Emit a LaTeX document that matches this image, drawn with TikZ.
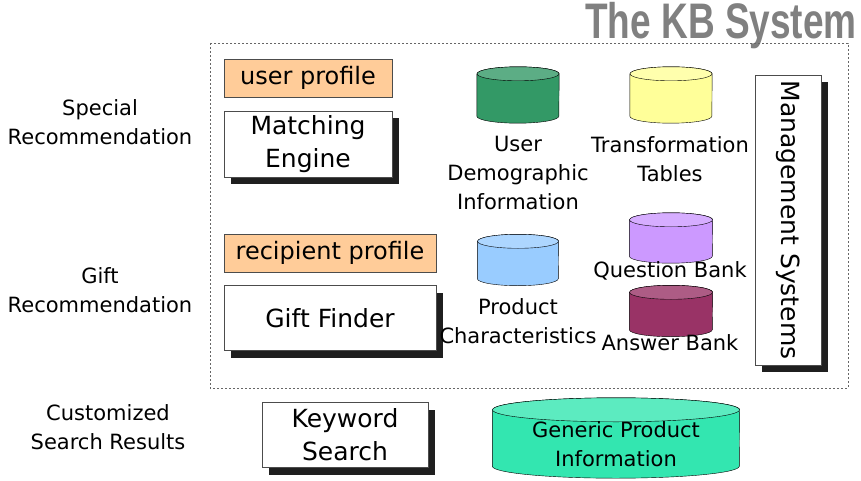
\documentclass[tikz,border=0pt]{standalone}
\usepackage{fontspec}
\setmainfont{DejaVu Sans}
\newfontfamily\titlefont{Liberation Sans}
\usepackage{tikz}
\usetikzlibrary{shapes, positioning, shadows}
\definecolor{KBPeach}{RGB}{255,204,153}
\definecolor{KBGreen}{RGB}{51,153,102}
\definecolor{KBYellow}{RGB}{255,255,153}
\definecolor{KBBlue}{RGB}{153,204,255}
\definecolor{KBLila}{RGB}{204,153,255}
\definecolor{KBMaroon}{RGB}{153,51,102}
\definecolor{KBAqua}{RGB}{51,230,176}
\tikzset{
  profile/.style={draw=black!70, fill=KBPeach, inner sep=0pt, font=\fontsize{24}{30}\selectfont},
  engine/.style={draw=black!70, fill=white, inner sep=0pt, align=center,
    font=\fontsize{25}{33}\selectfont,
    drop shadow={shadow xshift=7pt, shadow yshift=-7pt, opacity=1, fill=black!88}},
  caption/.style={align=center, font=\fontsize{21}{29}\selectfont}
}
% data store: name, position, width, height, end radius, colour
\newcommand\dbstore[6]{%
  \node[minimum width=#3, minimum height=#4, inner sep=0pt] (#1) at (#2) {};
  \draw[fill=#6] ([yshift=-#5]#1.north west) -- ([yshift=#5]#1.south west)
    arc[start angle=180, end angle=360, x radius=#3/2, y radius=#5]
    -- ([yshift=-#5]#1.north east)
    arc[start angle=0, end angle=180, x radius=#3/2, y radius=#5] -- cycle;
  \draw[fill=#6!80!white] ([yshift=-#5]#1.north) ellipse[x radius=#3/2, y radius=#5];
}
\begin{document}
\begin{tikzpicture}[x=1pt, y=-1pt]
    \useasboundingbox (0,0) rectangle (861,481);
    % title
    \node[font=\titlefont\bfseries\fontsize{37}{37}\selectfont, text=black!50, yscale=1.35, transform shape] (title) at (721,26) {The KB System};
    % the KB system frame
    \draw[black!60, dash pattern=on 2pt off 2pt] (210,43) rectangle (848,388);
    % left column
    \node[caption] (special) at (100,122) {Special\\Recommendation};
    \node[caption] (gift)    at (100,290) {Gift\\Recommendation};
    \node[caption] (custom)  at (108,427) {Customized\\Search Results};
    % profiles and engines
    \node[profile, minimum width=168pt, minimum height=38pt] (userprof) at (308,78) {user profile};
    \node[engine, minimum width=168pt, minimum height=66pt] (matching) at (308,144) {Matching\\Engine};
    \node[profile, minimum width=212pt, minimum height=38pt] (recprof) at (330,253) {recipient profile};
    \node[engine, minimum width=212pt, minimum height=65pt] (giftfinder) at (330,318) {Gift Finder};
    \node[engine, minimum width=166pt, minimum height=65pt] (keyword) at (345,435) {Keyword\\Search};
    \node[engine, minimum width=66pt, minimum height=290pt] (mgmt) at (788,220) {\rotatebox{-90}{Management Systems}};
    % data stores
    \dbstore{demo}{518,95}{82pt}{56pt}{7pt}{KBGreen}
    \dbstore{trans}{671,95}{82pt}{56pt}{7pt}{KBYellow}
    \dbstore{prod}{518,260}{81pt}{51pt}{7pt}{KBBlue}
    \dbstore{quest}{671,238}{83pt}{50pt}{7pt}{KBLila}
    \dbstore{answ}{671,311}{83pt}{51pt}{7pt}{KBMaroon}
    \dbstore{generic}{616,438}{247pt}{80pt}{12pt}{KBAqua}
    \node[caption] (genericlbl) at ([yshift=-6pt]generic) {Generic Product\\Information};
    % store captions
    \node[caption] (demolbl)  at (518,173) {User\\Demographic\\Information};
    \node[caption] (translbl) at (670,159) {Transformation\\Tables};
    \node[caption] (prodlbl)  at (518,321) {Product\\Characteristics};
    \node[caption] (questlbl) at (670,271) {Question Bank};
    \node[caption] (answlbl)  at (670,343) {Answer Bank};
\end{tikzpicture}
\end{document}
